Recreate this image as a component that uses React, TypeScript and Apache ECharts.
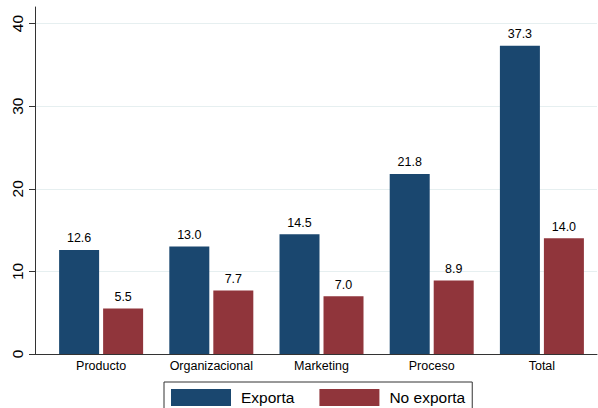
import React, { useEffect, useRef } from "react";
import * as echarts from "echarts";

const categories = ["Producto", "Organizacional", "Marketing", "Proceso", "Total"];
const exporta = [12.6, 13.0, 14.5, 21.8, 37.3];
const noExporta = [5.5, 7.7, 7.0, 8.9, 14.0];
const yTicks = [0, 10, 20, 30, 40];
const seriesNames = ["Exporta", "No exporta"];

const FONT = "'Liberation Sans', Arial, Helvetica, sans-serif";

export default function App() {
  const ref = useRef<HTMLDivElement>(null);
  useEffect(() => {
    if (!ref.current) return;
    const chart = echarts.init(ref.current, null, { renderer: "svg" });
    const labelCfg = {
      show: true,
      position: "top",
      distance: 5,
      color: "#000",
      fontFamily: FONT,
      fontSize: 12.5,
      formatter: (p: any) => Number(p.value[1]).toFixed(1),
    };
    chart.setOption({
      animation: false,
      grid: { left: 35, right: 1, top: 7, bottom: 54, containLabel: false, outerBoundsMode: "none" },
      xAxis: {
        type: "value",
        min: -0.6,
        max: 4.5,
        axisLine: { show: true, onZero: false, lineStyle: { color: "#333", width: 1 } },
        axisTick: { show: false },
        splitLine: { show: false },
        axisLabel: {
          customValues: categories.map((_, i) => i),
          formatter: (v: number) => categories[Math.round(v)] ?? "",
          color: "#000",
          fontFamily: FONT,
          fontSize: 12.5,
          margin: 5,
        },
      },
      yAxis: {
        type: "value",
        min: 0,
        max: 42,
        axisLine: { show: true, onZero: false, lineStyle: { color: "#333", width: 1 } },
        axisTick: { show: true, length: 6, customValues: yTicks, lineStyle: { color: "#333" } },
        axisLabel: {
          customValues: yTicks,
          rotate: 90,
          color: "#000",
          fontFamily: FONT,
          fontSize: 15.5,
          margin: 10,
        },
        splitLine: { show: true, lineStyle: { color: "#e6eff0", width: 1 } },
      },
      legend: {
        data: seriesNames,
        left: 164,
        top: 382,
        padding: [7, 7, 7, 7],
        itemWidth: 60,
        itemHeight: 17,
        itemGap: 25,
        borderColor: "#333",
        borderWidth: 1,
        icon: "rect",
        textStyle: { color: "#000", fontFamily: FONT, fontSize: 15.5, padding: [0, 0, 0, 5] },
      },
      series: [
        {
          name: seriesNames[0],
          type: "bar",
          barWidth: 40,
          barGap: "10%",
          itemStyle: { color: "#1a476f" },
          label: labelCfg,
          data: exporta.map((v, i) => [i, v]),
        },
        {
          name: seriesNames[1],
          type: "bar",
          barWidth: 40,
          barGap: "10%",
          itemStyle: { color: "#90353b" },
          label: labelCfg,
          data: noExporta.map((v, i) => [i, v]),
        },
      ],
    });
    return () => chart.dispose();
  }, []);
  return (
    <div
      ref={ref}
      style={{ position: "fixed", left: 0, top: 0, width: 598, height: 408, background: "#fff" }}
    />
  );
}
